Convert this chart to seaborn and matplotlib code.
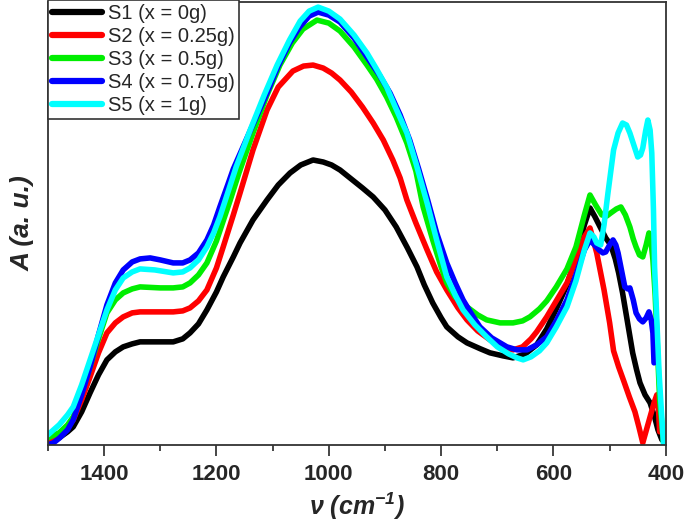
import pandas as pd
import matplotlib
matplotlib.use("Agg")
import matplotlib.pyplot as plt
import seaborn as sns

# FTIR absorbance spectra (a.u., arbitrary scale)
labels = ["S1 (x = 0g)", "S2 (x = 0.25g)", "S3 (x = 0.5g)", "S4 (x = 0.75g)", "S5 (x = 1g)"]
colors = ["#000000", "#ff0000", "#00ee00", "#0000ff", "#00ffff"]

s1_wn = [1500, 1480, 1465, 1455, 1440, 1425, 1410, 1395, 1380, 1366, 1350, 1336, 1310, 1290, 1277,
         1260, 1247, 1232, 1217, 1200, 1188, 1170, 1158, 1135, 1110, 1090, 1069, 1050, 1028, 1010,
         995, 980, 960, 940, 921, 900, 880, 860, 843, 830, 815, 800, 790, 770, 754, 730, 713, 690,
         672, 650, 630, 612, 595, 576, 560, 545, 535, 526, 517, 507, 498, 490, 484, 477, 471, 465,
         459, 452, 446, 437, 428, 420, 414, 407]
s1_a = [0.03, 0.07, 0.13, 0.18, 0.33, 0.52, 0.70, 0.85, 0.93, 0.98, 1.01, 1.03, 1.03, 1.03, 1.03,
        1.06, 1.12, 1.21, 1.35, 1.53, 1.68, 1.88, 2.02, 2.25, 2.45, 2.60, 2.72, 2.80, 2.85, 2.83,
        2.80, 2.75, 2.66, 2.57, 2.48, 2.35, 2.18, 1.97, 1.78, 1.60, 1.42, 1.27, 1.18, 1.08, 1.02, 0.96, 0.92, 0.89,
        0.87, 0.91, 1.00, 1.16, 1.36, 1.60, 1.88, 2.20, 2.37, 2.28, 2.18, 2.07, 2.00, 1.86, 1.72, 1.52, 1.32, 1.12,
        0.92, 0.75, 0.62, 0.50, 0.42, 0.28, 0.15, 0.05]

s2_wn = [1500, 1480, 1465, 1455, 1440, 1425, 1410, 1395, 1380, 1366, 1350, 1336, 1300, 1277, 1260,
         1247, 1232, 1217, 1200, 1188, 1170, 1158, 1135, 1110, 1090, 1064, 1045, 1028, 1010, 995,
         980, 960, 940, 921, 903, 886, 873, 861, 845, 825, 808, 790, 770, 754, 735, 713, 690, 672,
         655, 640, 630, 612, 595, 576, 560, 545, 535, 523, 510, 500, 493, 484, 475, 465, 455, 448,
         441, 434, 427, 421, 416, 413, 411]
s2_a = [0.05, 0.10, 0.18, 0.25, 0.45, 0.68, 0.92, 1.12, 1.22, 1.28, 1.32, 1.33, 1.33, 1.33, 1.34,
        1.37, 1.44, 1.55, 1.77, 1.98, 2.30, 2.52, 2.95, 3.35, 3.58, 3.74, 3.79, 3.80, 3.77, 3.72,
        3.65, 3.53, 3.38, 3.22, 3.05, 2.85, 2.67, 2.45, 2.22, 1.95, 1.73, 1.55, 1.37, 1.25, 1.14, 1.05, 0.98, 0.95,
        0.98, 1.06, 1.13, 1.28, 1.44, 1.62, 1.85, 2.08, 2.17, 1.92, 1.55, 1.22, 0.94, 0.78, 0.64, 0.48, 0.33, 0.18,
        0.02, 0.16, 0.30, 0.42, 0.50, 0.35, 0.13]

s3_wn = [1500, 1480, 1465, 1455, 1440, 1425, 1410, 1395, 1380, 1366, 1350, 1336, 1300, 1277, 1260,
         1247, 1232, 1217, 1200, 1188, 1176, 1160, 1135, 1110, 1087, 1065, 1046, 1021, 1000, 980,
         955, 932, 915, 897, 880, 861, 845, 832, 815, 800, 790, 775, 754, 735, 719, 695, 672, 655,
         642, 625, 612, 595, 576, 560, 545, 535, 525, 514, 505, 498, 488, 480, 472, 464, 458, 453,
         447, 441, 435, 430, 426, 423, 419, 416, 411, 404]
s3_a = [0.07, 0.12, 0.20, 0.28, 0.52, 0.78, 1.06, 1.32, 1.45, 1.52, 1.56, 1.58, 1.57, 1.57, 1.58,
        1.62, 1.70, 1.82, 2.04, 2.24, 2.44, 2.72, 3.12, 3.50, 3.80, 4.02, 4.16, 4.25, 4.22, 4.14,
        3.98, 3.80, 3.66, 3.48, 3.28, 3.02, 2.74, 2.38, 2.05, 1.78, 1.62, 1.48, 1.38, 1.30, 1.25, 1.22, 1.22, 1.24,
        1.28, 1.36, 1.44, 1.58, 1.76, 1.98, 2.30, 2.50, 2.40, 2.30, 2.29, 2.32, 2.36, 2.38, 2.30, 2.18, 2.06, 1.98,
        1.90, 1.88, 2.00, 2.12, 2.02, 1.85, 1.50, 1.12, 0.45, 0.02]

s4_wn = [1500, 1490, 1479, 1465, 1455, 1440, 1425, 1410, 1395, 1380, 1366, 1350, 1336, 1318, 1300,
         1277, 1260, 1247, 1232, 1217, 1205, 1194, 1180, 1170, 1137, 1110, 1091, 1070, 1052, 1035, 1019,
         1000, 980, 955, 932, 910, 891, 873, 856, 840, 824, 808, 790, 775, 761, 745, 731, 710, 683,
         665, 647, 630, 612, 595, 576, 560, 545, 535, 527, 519, 512, 507, 500, 494, 489, 485, 479,
         473, 468, 464, 458, 453, 447, 441, 435, 430, 426, 423, 421]
s4_a = [0.00, 0.02, 0.07, 0.15, 0.25, 0.50, 0.78, 1.10, 1.40, 1.62, 1.75, 1.83, 1.86, 1.87, 1.85,
        1.82, 1.82, 1.85, 1.92, 2.05, 2.20, 2.38, 2.60, 2.76, 3.18, 3.52, 3.78, 4.02, 4.18, 4.29, 4.33,
        4.30, 4.23, 4.07, 3.88, 3.70, 3.52, 3.30, 3.05, 2.76, 2.45, 2.12, 1.82, 1.62, 1.45, 1.30, 1.18, 1.07, 0.98,
        0.95, 0.95, 1.00, 1.08, 1.24, 1.45, 1.70, 1.95, 2.05, 2.00, 1.95, 1.92, 1.93, 2.00, 2.05, 2.00, 1.92, 1.75,
        1.58, 1.56, 1.57, 1.45, 1.32, 1.26, 1.23, 1.27, 1.33, 1.25, 1.12, 0.82]

s5_wn = [1500, 1480, 1465, 1455, 1440, 1425, 1410, 1395, 1380, 1366, 1350, 1336, 1310, 1277, 1260,
         1247, 1232, 1217, 1205, 1194, 1180, 1165, 1140, 1115, 1092, 1070, 1051, 1035, 1019, 1000,
         980, 955, 932, 915, 897, 880, 861, 845, 825, 808, 790, 775, 761, 740, 719, 700, 680, 665,
         654, 640, 625, 612, 595, 576, 560, 545, 535, 528, 523, 516, 510, 503, 493, 485, 477, 470,
         464, 457, 450, 445, 441, 436, 432, 428, 425, 422, 420, 416, 412, 408, 404]
s5_a = [0.10, 0.20, 0.30, 0.38, 0.60, 0.85, 1.10, 1.35, 1.55, 1.67, 1.73, 1.76, 1.75, 1.72, 1.73,
        1.77, 1.85, 1.98, 2.12, 2.28, 2.52, 2.78, 3.15, 3.50, 3.80, 4.05, 4.24, 4.34, 4.38, 4.34,
        4.26, 4.10, 3.92, 3.76, 3.58, 3.36, 3.12, 2.82, 2.42, 2.05, 1.68, 1.50, 1.35, 1.20, 1.08, 0.98, 0.91, 0.87,
        0.85, 0.88, 0.94, 1.02, 1.18, 1.38, 1.64, 1.95, 2.12, 2.08, 2.02, 2.00, 2.20, 2.52, 2.95, 3.12, 3.22, 3.20,
        3.12, 3.00, 2.88, 2.90, 2.97, 3.14, 3.25, 3.15, 2.92, 2.35, 1.78, 1.25, 0.72, 0.35, 0.00]

series = [(s1_wn, s1_a), (s2_wn, s2_a), (s3_wn, s3_a), (s4_wn, s4_a), (s5_wn, s5_a)]
frames = []
for lab, (wn, a) in zip(labels, series):
    frames.append(pd.DataFrame({"wn": wn, "A": a, "sample": lab}))
df = pd.concat(frames, ignore_index=True)

sns.set_style("white")
plt.rcParams["font.family"] = ["Liberation Sans", "DejaVu Sans"]
plt.rcParams["mathtext.default"] = "regular"

fig = plt.figure(figsize=(6.85, 5.27), dpi=100)
ax = fig.add_axes([0.070, 0.156, 0.902, 0.840])

sns.lineplot(data=df, x="wn", y="A", hue="sample", hue_order=labels,
             palette=colors, estimator=None, sort=True, linewidth=4,
             solid_joinstyle="round", solid_capstyle="round", ax=ax)

ax.set_xlim(1500, 400)
ax.set_ylim(0, 4.43)
ax.set_xticks([1400, 1200, 1000, 800, 600, 400])
ax.set_xticks(range(1500, 399, -100), minor=True)
ax.set_yticks([])
ax.tick_params(axis="x", which="major", direction="out", length=8, width=1.2,
               bottom=True, labelsize=16, pad=6)
ax.tick_params(axis="x", which="minor", direction="out", length=4, width=1.2, bottom=True)
for lbl in ax.get_xticklabels():
    lbl.set_fontweight("bold")
for sp in ax.spines.values():
    sp.set_color("#333333")
    sp.set_linewidth(1.3)

ax.set_xlabel(r"ν (cm$^{-1}$)", fontsize=18, fontweight="bold", style="italic", labelpad=4)
ax.set_ylabel("A (a. u.)", fontsize=19, fontweight="bold", style="italic", labelpad=10)

handles, labs = ax.get_legend_handles_labels()
for h in handles:
    h.set_linewidth(4.5)
leg = ax.legend(handles, labs, loc="upper left", bbox_to_anchor=(0, 1.005),
                borderaxespad=0, fontsize=14.5, frameon=True, fancybox=False,
                framealpha=1, edgecolor="#333333", handlelength=2.5,
                handletextpad=0.3, labelspacing=0.2, borderpad=0.2)
leg.get_frame().set_linewidth(1.2)

fig.savefig("out.png", dpi=100)
